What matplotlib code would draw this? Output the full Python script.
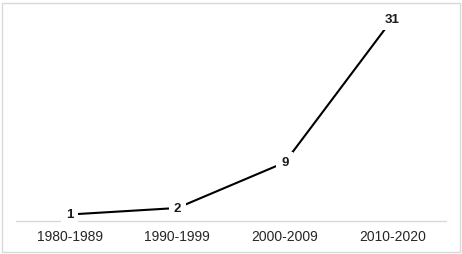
import matplotlib.pyplot as plt
from matplotlib.patches import Rectangle

# Données
periodes = ["1980-1989", "1990-1999", "2000-2009", "2010-2020"]
valeurs = [1, 2, 9, 31]

plt.rcParams['font.family'] = ['Liberation Sans', 'DejaVu Sans']

fig = plt.figure(figsize=(4.62, 2.55), dpi=100)
ax = fig.add_axes([16 / 462, 33 / 255, 430 / 462, 212 / 255])

x = range(len(periodes))
ax.plot(x, valeurs, color='black', linewidth=1.5, zorder=2)

# Étiquettes de données (fond blanc qui coupe la ligne)
for xi, v in zip(x, valeurs):
    ax.text(xi, v, str(v), ha='center', va='center', fontsize=9.5, fontweight='bold',
            color='#1a1a1a', zorder=3,
            bbox=dict(facecolor='white', edgecolor='none', pad=3.5))

ax.set_xlim(-0.5, 3.5)
ax.set_ylim(0, 32.6)
ax.set_xticks(list(x))
ax.set_xticklabels(periodes, fontsize=10, color='#262626')
ax.tick_params(axis='x', length=0, pad=6)
ax.set_yticks([])

for side in ['top', 'right', 'left']:
    ax.spines[side].set_visible(False)
ax.spines['bottom'].set_color('#d9d9d9')
ax.spines['bottom'].set_linewidth(1)
ax.spines['bottom'].set_zorder(1)

# Cadre autour de la figure
fig.patches.append(Rectangle((1.5 / 462, 2 / 255), 458 / 462, 249 / 255,
                             transform=fig.transFigure, fill=False,
                             edgecolor='#d9d9d9', linewidth=1))

fig.savefig("out.png", dpi=100)
